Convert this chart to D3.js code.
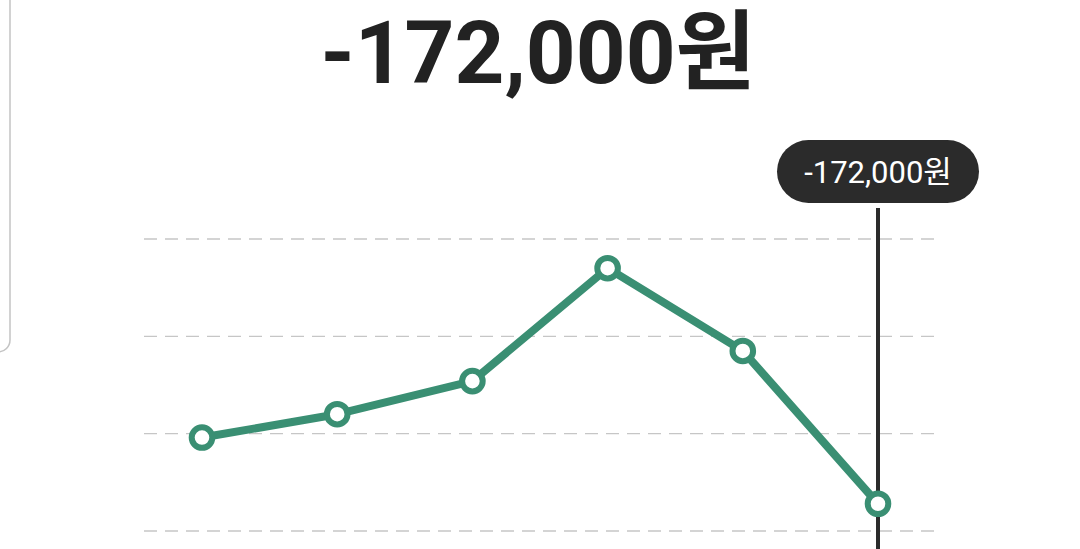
<!DOCTYPE html>
<html>
<head>
<meta charset="utf-8">
<script src="https://cdn.jsdelivr.net/npm/d3@7"></script>
<style>
  html, body { margin: 0; padding: 0; background: #fff; }
  svg { display: block; font-family: Roboto, "Noto Sans CJK KR", sans-serif; }
</style>
</head>
<body>
<div id="chart"></div>
<script>
// Monthly values (won)
const months = ['1월', '2월', '3월', '4월', '5월', '6월'];
const values = [-104000, -80000, -46000, 70000, -15000, -172000];
const gridValues = [-200000, -100000, 0, 100000];

const width = 1080;
const height = 549;
const lineColor = '#3a8f73';

// plain hyphen for the minus sign, like the app shows it
const wonLocale = d3.formatLocale({
  decimal: '.',
  thousands: ',',
  grouping: [3],
  currency: ['', '원'],
  minus: '-',
});
const formatWon = (v) => `${wonLocale.format(',')(v)}원`;

const svg = d3
  .select('#chart')
  .append('svg')
  .attr('width', width)
  .attr('height', height);

// Edge of the card behind, peeking in on the left
svg
  .append('rect')
  .attr('x', -200)
  .attr('y', -20)
  .attr('width', 210)
  .attr('height', 372)
  .attr('rx', 12)
  .attr('fill', 'none')
  .attr('stroke', '#c4c4c4')
  .attr('stroke-width', 1.5);

const xscale = d3.scalePoint().domain(months).range([202, 878]);

const yscale = d3
  .scaleLinear()
  .domain([-200000, 100000])
  .range([531, 239]);

// Dashed grid lines
svg
  .append('g')
  .selectAll('line')
  .data(gridValues)
  .enter()
  .append('line')
  .attr('x1', 144)
  .attr('x2', 934)
  .attr('y1', (d) => yscale(d))
  .attr('y2', (d) => yscale(d))
  .attr('stroke', '#c6c6c6')
  .attr('stroke-width', 1.3)
  .attr('stroke-dasharray', '13,8');

const lastIdx = values.length - 1;
const selX = xscale(months[lastIdx]);

// Vertical marker for the selected point
svg
  .append('line')
  .attr('x1', selX)
  .attr('x2', selX)
  .attr('y1', 208)
  .attr('y2', height)
  .attr('stroke', '#2b2b2b')
  .attr('stroke-width', 4);

const line = d3
  .line()
  .x((d, i) => xscale(months[i]))
  .y((d) => yscale(d));

svg
  .append('path')
  .datum(values)
  .attr('d', line)
  .attr('fill', 'none')
  .attr('stroke', lineColor)
  .attr('stroke-width', 8)
  .attr('stroke-linejoin', 'round');

svg
  .append('g')
  .selectAll('circle')
  .data(values)
  .enter()
  .append('circle')
  .attr('cx', (d, i) => xscale(months[i]))
  .attr('cy', (d) => yscale(d))
  .attr('r', 10.3)
  .attr('fill', '#fff')
  .attr('stroke', lineColor)
  .attr('stroke-width', 6);

// Tooltip pill above the selected point
const tip = svg.append('g').attr('transform', `translate(${selX}, 171.5)`);

tip
  .append('rect')
  .attr('x', -101)
  .attr('y', -31.5)
  .attr('width', 202)
  .attr('height', 63)
  .attr('rx', 31.5)
  .attr('fill', '#2b2b2b');

tip
  .append('text')
  .attr('text-anchor', 'middle')
  .attr('y', 11.5)
  .attr('fill', '#fff')
  .style('font-size', '31px')
  .text(formatWon(values[lastIdx]));

// Big headline value
svg
  .append('text')
  .attr('x', 538)
  .attr('y', 83)
  .attr('text-anchor', 'middle')
  .attr('fill', '#222')
  .style('font-size', '87px')
  .style('font-weight', 700)
  .text(formatWon(values[lastIdx]));
</script>
</body>
</html>
